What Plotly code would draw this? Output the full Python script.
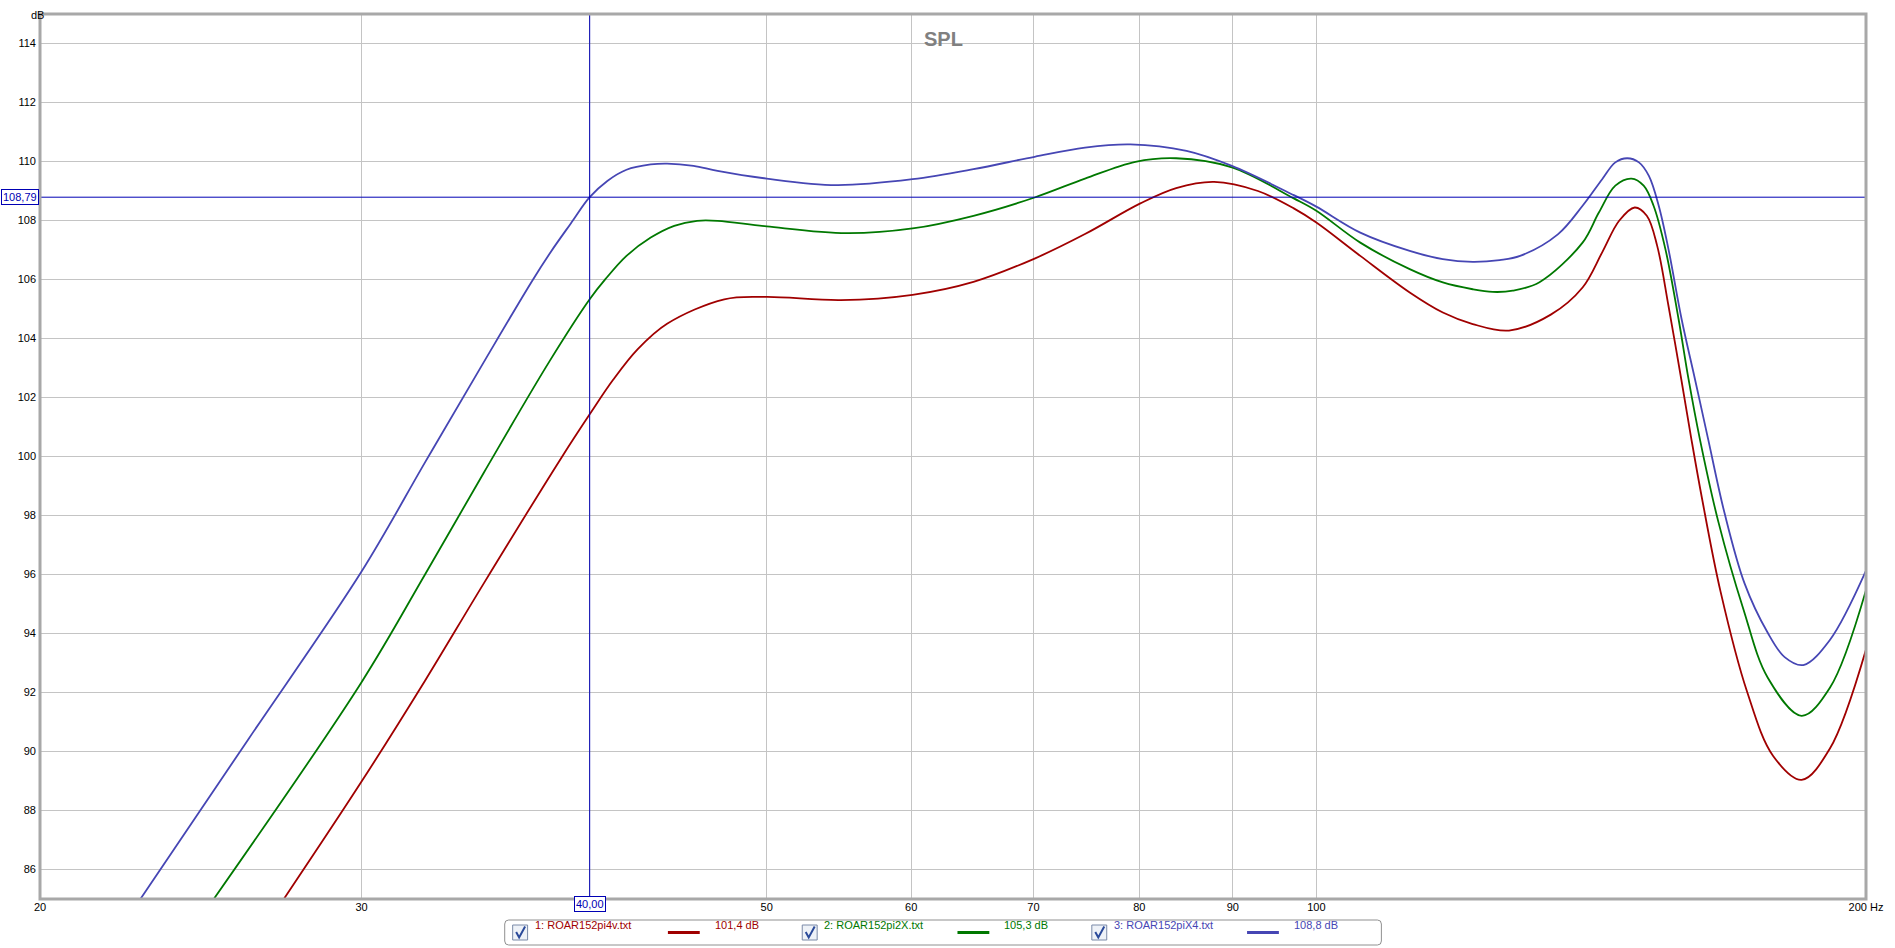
import math
import plotly.graph_objects as go

# SPL curves (Hz / dB)
freq_pi4v = [27.2, 30.0, 32.5, 35.0, 38.6, 40.0, 41.2, 42.5, 44.1, 47.4, 50.0, 54.9,
             60.1, 64.9, 70.1, 74.7, 80.1, 83.8, 87.9, 92.9, 97.2, 100.0, 105.7, 112.5, 117.3,
             121.8, 127.5, 134.4, 139.9, 143.4, 146.5, 149.4, 151.7, 153.7, 155.9, 158.5, 160.4,
             162.6, 166.5, 172.1, 177.9, 184.4, 191.1, 200.0]
spl_pi4v = [85.0, 88.98, 92.4, 95.7, 99.96, 101.43, 102.6, 103.64, 104.5, 105.33, 105.41, 105.3,
            105.48, 105.92, 106.71, 107.54, 108.58, 109.1, 109.31, 109.0, 108.41, 107.93, 106.8, 105.56, 104.88,
            104.49, 104.27, 104.81, 105.73, 106.92, 107.99, 108.44, 108.16, 107.14, 105.11, 102.56, 100.66,
            98.61, 95.41, 92.05, 89.85, 89.04, 90.1, 93.46]

freq_pi2x = [24.9, 30.0, 32.5, 35.0, 38.0, 40.0, 40.8, 41.9, 43.2, 44.5, 45.8, 47.0,
             50.0, 55.3, 60.1, 64.9, 70.1, 74.7, 79.6, 83.8, 89.9, 97.2, 100.0, 105.7, 112.5, 117.3,
             121.8, 124.9, 128.1, 132.5, 139.9, 142.8, 145.8, 148.8, 151.1, 153.0, 155.3, 157.9,
             159.9, 162.2, 166.0, 171.3, 176.7, 184.4, 191.1, 200.0]
spl_pi2x = [85.0, 92.35, 96.0, 99.45, 103.2, 105.33, 106.01, 106.8, 107.42, 107.82, 107.99, 107.99,
            107.8, 107.57, 107.73, 108.16, 108.78, 109.42, 109.99, 110.11, 109.8, 108.75, 108.33, 107.25,
            106.35, 105.9, 105.67, 105.58, 105.62, 105.91, 107.25, 108.27, 109.18, 109.42, 109.18, 108.5,
            107.03, 104.66, 102.62, 100.59, 97.8, 94.85, 92.5, 91.21, 92.16, 95.47]

freq_pix4 = [22.7, 26.0, 30.0, 32.5, 35.0, 37.2, 38.1, 39.06, 40.0, 40.9, 41.9, 43.2, 44.1, 45.6, 47.0, 50.0,
             54.6, 60.1, 64.9, 70.1, 74.7, 79.1, 84.9, 89.9, 97.2, 100.0, 105.7, 112.5, 117.3, 121.8,
             126.0, 129.3, 135.6, 139.9, 143.4, 145.8, 148.0, 150.2, 152.1, 154.0, 155.9, 158.5, 161.2,
             163.9, 167.3, 171.6, 176.6, 180.5, 184.8, 191.1, 200.0]
spl_pix4 = [85.0, 90.4, 96.1, 99.8, 103.2, 105.95, 106.95, 107.9, 108.79, 109.34, 109.72, 109.9, 109.93, 109.85,
            109.68, 109.42, 109.2, 109.4, 109.74, 110.16, 110.47, 110.58, 110.36, 109.85, 108.86, 108.47,
            107.59, 106.97, 106.69, 106.6, 106.66, 106.8, 107.53, 108.5, 109.4, 109.97, 110.11, 109.97,
            109.51, 108.5, 107.03, 104.66, 102.62, 100.59, 98.1, 95.7, 94.05, 93.2, 92.93, 93.78, 96.13]

names = ["1: ROAR152pi4v.txt", "2: ROAR152pi2X.txt", "3: ROAR152piX4.txt"]
cursor_values = ["101,4 dB", "105,3 dB", "108,8 dB"]
colors = ["#a00000", "#007800", "#4646b4"]

cursor_freq = 40.0
cursor_level = 108.79

x_ticks = [20, 30, 40, 50, 60, 70, 80, 90, 100, 200]
x_ticktext = ["20", "30", "", "50", "60", "70", "80", "90", "100", "200 Hz"]
y_ticks = list(range(86, 116, 2))

W, H = 1895, 948
L, R, T, B = 40, 20, 14, 49
PW, PH = W - L - R, H - T - B


def px(x):
    return (x - L) / PW


def py(y):
    return (T + PH - y) / PH


def rounded_box(x0, y0, x1, y1, r):
    # pixel box -> paper path with rounded corners
    pts = [
        f"M {px(x0 + r)},{py(y0)}", f"L {px(x1 - r)},{py(y0)}", f"Q {px(x1)},{py(y0)} {px(x1)},{py(y0 + r)}",
        f"L {px(x1)},{py(y1 - r)}", f"Q {px(x1)},{py(y1)} {px(x1 - r)},{py(y1)}",
        f"L {px(x0 + r)},{py(y1)}", f"Q {px(x0)},{py(y1)} {px(x0)},{py(y1 - r)}",
        f"L {px(x0)},{py(y0 + r)}", f"Q {px(x0)},{py(y0)} {px(x0 + r)},{py(y0)}", "Z",
    ]
    return " ".join(pts)


fig = go.Figure()
for f, s, n, c in zip([freq_pi4v, freq_pi2x, freq_pix4], [spl_pi4v, spl_pi2x, spl_pix4], names, colors):
    fig.add_trace(go.Scatter(x=f, y=s, name=n, mode="lines",
                             line=dict(color=c, width=1.8, shape="spline", smoothing=1.0)))

cur = "#0000b4"
shapes = [
    # cursor crosshair
    dict(type="line", xref="x", yref="paper", x0=cursor_freq, x1=cursor_freq, y0=0, y1=1,
         line=dict(color=cur, width=1)),
    dict(type="line", xref="paper", yref="y", x0=0, x1=1, y0=cursor_level, y1=cursor_level,
         line=dict(color=cur, width=1)),
    # frame
    dict(type="rect", xref="paper", yref="paper", x0=0, x1=1, y0=0, y1=1,
         line=dict(color="#a8a8a8", width=3)),
    # legend box
    dict(type="path", xref="paper", yref="paper", path=rounded_box(507, 920, 1388, 945, 4),
         line=dict(color="#909090", width=1), fillcolor="white"),
]

annotations = [
    dict(text="<b>SPL</b>", xref="paper", yref="paper", x=px(948), y=py(26), showarrow=False,
         font=dict(size=20, color="#808080", family="Liberation Sans")),
    dict(text="dB", xref="paper", yref="paper", x=px(29), y=py(7), showarrow=False,
         font=dict(size=11, color="#000", family="Liberation Sans")),
    dict(text="40,00", xref="x", yref="paper", x=math.log10(cursor_freq), y=py(912), showarrow=False,
         font=dict(size=11, color=cur, family="Liberation Sans"), bordercolor=cur, borderwidth=1,
         borderpad=1, bgcolor="white"),
    dict(text="108,79", xref="paper", yref="y", x=-0.0005, y=cursor_level, xanchor="right",
         showarrow=False, font=dict(size=11, color=cur, family="Liberation Sans"),
         bordercolor=cur, borderwidth=1, borderpad=1, bgcolor="white"),
]

# hand made legend row
for i, (n, v, c) in enumerate(zip(names, cursor_values, colors)):
    off = i * 291
    yc = py(932.5)
    shapes.append(dict(type="rect", xref="paper", yref="paper", x0=px(515 + off), x1=px(530 + off),
                       y0=py(940), y1=py(925), line=dict(color="#7a8aa8", width=1),
                       fillcolor="#eef2f8"))
    shapes.append(dict(type="path", xref="paper", yref="paper",
                       path=f"M {px(518.5 + off)},{py(932)} L {px(521.5 + off)},{py(937.5)} "
                            f"L {px(527.5 + off)},{py(926.5)}",
                       line=dict(color="#2a4a9a", width=2)))
    annotations.append(dict(text=n, xref="paper", yref="paper", x=px(535 + off), y=yc, xanchor="left",
                            showarrow=False, font=dict(size=11, color=c, family="Liberation Sans")))
    shapes.append(dict(type="line", xref="paper", yref="paper", x0=px(671 + off), x1=px(703 + off),
                       y0=yc, y1=yc, line=dict(color=c, width=3)))
    annotations.append(dict(text=v, xref="paper", yref="paper", x=px(716 + off), y=yc, xanchor="left",
                            showarrow=False, font=dict(size=11, color=c, family="Liberation Sans")))

fig.update_layout(
    width=W, height=H,
    margin=dict(l=L, r=R, t=T, b=B),
    paper_bgcolor="white", plot_bgcolor="white",
    showlegend=False,
    shapes=shapes, annotations=annotations,
    font=dict(family="Liberation Sans", size=11, color="#000"),
)
fig.update_xaxes(type="log", range=[1.30103, 2.30103], tickvals=x_ticks, ticktext=x_ticktext,
                 showgrid=True, gridcolor="#c4c4c4", gridwidth=1, zeroline=False, showline=False,
                 ticks="", tickfont=dict(size=11))
fig.update_yaxes(range=[85, 115], tickvals=y_ticks, showgrid=True, gridcolor="#c4c4c4", gridwidth=1,
                 zeroline=False, showline=False, ticks="", ticklabelstandoff=3, tickfont=dict(size=11))

fig.write_html("out.html", config={"displayModeBar": False},
               post_script="document.body.style.margin='0px';document.body.style.overflow='hidden';")
